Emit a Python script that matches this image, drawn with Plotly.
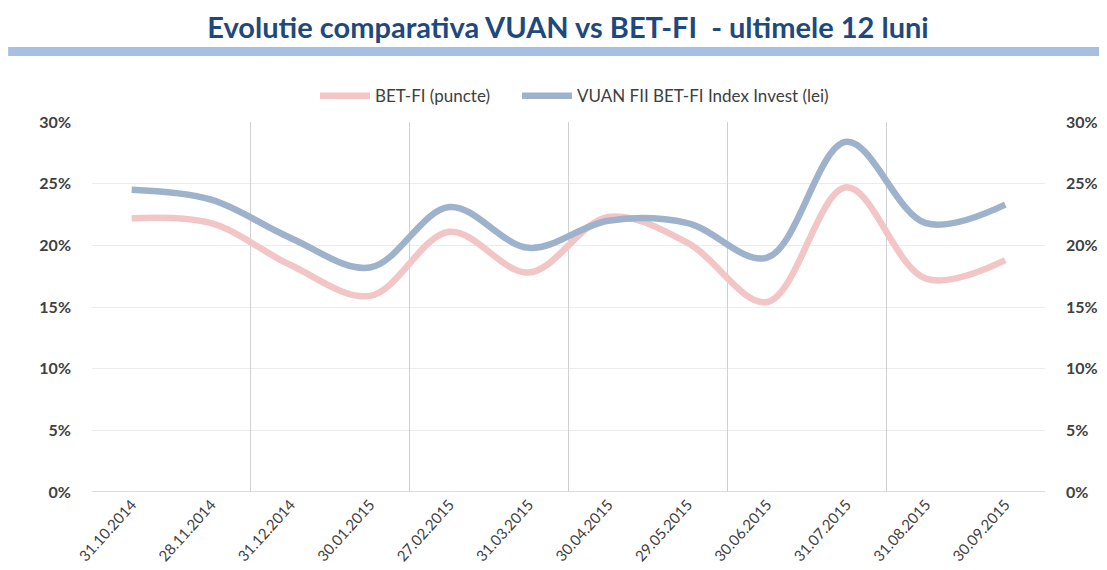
import plotly.graph_objects as go

dates = ["31.10.2014", "28.11.2014", "31.12.2014", "30.01.2015", "27.02.2015", "31.03.2015",
         "30.04.2015", "29.05.2015", "30.06.2015", "31.07.2015", "31.08.2015", "30.09.2015"]
bet_fi = [22.2, 21.8, 18.4, 15.9, 21.1, 17.8, 22.3, 20.2, 15.4, 24.7, 17.3, 18.8]
vuan = [24.5, 23.7, 20.6, 18.2, 23.1, 19.8, 22.0, 21.8, 19.0, 28.4, 21.8, 23.3]
y_ticks = [0, 5, 10, 15, 20, 25, 30]
y_ticktext = [f"<b>{v}%</b>" for v in y_ticks]

xs = list(range(len(dates)))
font_family = "Lato, 'Open Sans', sans-serif"

fig = go.Figure()
fig.add_trace(go.Scatter(x=xs, y=bet_fi, mode="lines", name="BET-FI (puncte)", legend="legend",
                         line=dict(color="#f2c6c6", width=6.5, shape="spline", smoothing=1.0)))
fig.add_trace(go.Scatter(x=xs, y=vuan, mode="lines", name="VUAN FII BET-FI Index Invest (lei)",
                         legend="legend2",
                         line=dict(color="#9fb2cb", width=6.5, shape="spline", smoothing=1.0)))

legend_common = dict(orientation="h", yanchor="middle", y=1.07, xanchor="left",
                     font=dict(size=17, color="#404040"), itemwidth=50,
                     bgcolor="rgba(0,0,0,0)")

fig.update_layout(
    width=1099, height=562,
    margin=dict(l=84, r=62, t=114, b=78, autoexpand=False),
    paper_bgcolor="white", plot_bgcolor="white",
    font=dict(family=font_family, color="#404040", size=12),
    title=dict(text="<b>Evolutie comparativa VUAN vs BET-FI  - ultimele 12 luni</b>",
               x=0.5096, xanchor="center", y=0.964, yanchor="middle", yref="container",
               font=dict(family=font_family, size=29, color="#1f497d")),
    showlegend=True,
    legend=dict(x=(315 - 92) / 953, **legend_common),
    legend2=dict(x=(517 - 92) / 953, **legend_common),
    xaxis=dict(range=[-0.5, len(dates) - 0.5], tickvals=xs, ticktext=dates, automargin=False,
               tickangle=-48, showgrid=False, zeroline=False, showline=False,
               ticks="", tickfont=dict(size=15, color="#404040")),
    xaxis2=dict(overlaying="x", matches="x", range=[-0.5, len(dates) - 0.5], automargin=False,
                tickvals=[-0.5, 1.5, 3.5, 5.5, 7.5, 9.5, 11.5], showticklabels=False,
                showgrid=True, gridcolor="#d0d0d0", gridwidth=1, zeroline=False, ticks=""),
    yaxis=dict(range=[0, 30], tickvals=y_ticks, ticktext=y_ticktext, showgrid=True,
               automargin=False,
               gridcolor="#ececec", zeroline=False, showline=False, ticks="",
               tickfont=dict(size=16, color="#404040"), ticklabelstandoff=20),
    yaxis2=dict(range=[0, 30], overlaying="y", side="right", tickvals=y_ticks,
                automargin=False,
                ticktext=y_ticktext, showgrid=False, zeroline=False, showline=False,
                ticks="", tickfont=dict(size=16, color="#404040"), ticklabelstandoff=20),
)

# helper trace on xaxis2/yaxis2 so those axes render (invisible)
fig.add_trace(go.Scatter(x=[None], y=[None], xaxis="x2", yaxis="y2", showlegend=False,
                         hoverinfo="skip"))

# bottom axis line
fig.add_shape(type="line", xref="paper", yref="y", x0=0, x1=1, y0=0, y1=0,
              line=dict(color="#d0d0d0", width=1.5))
# decorative band under title
fig.add_shape(type="rect", xref="paper", yref="paper", x0=-0.088, x1=1.07,
              y0=(484 - 48) / 370, y1=(484 - 39) / 370, fillcolor="#a7bfe0",
              line=dict(width=0), layer="above")

fig.write_html("out.html")
